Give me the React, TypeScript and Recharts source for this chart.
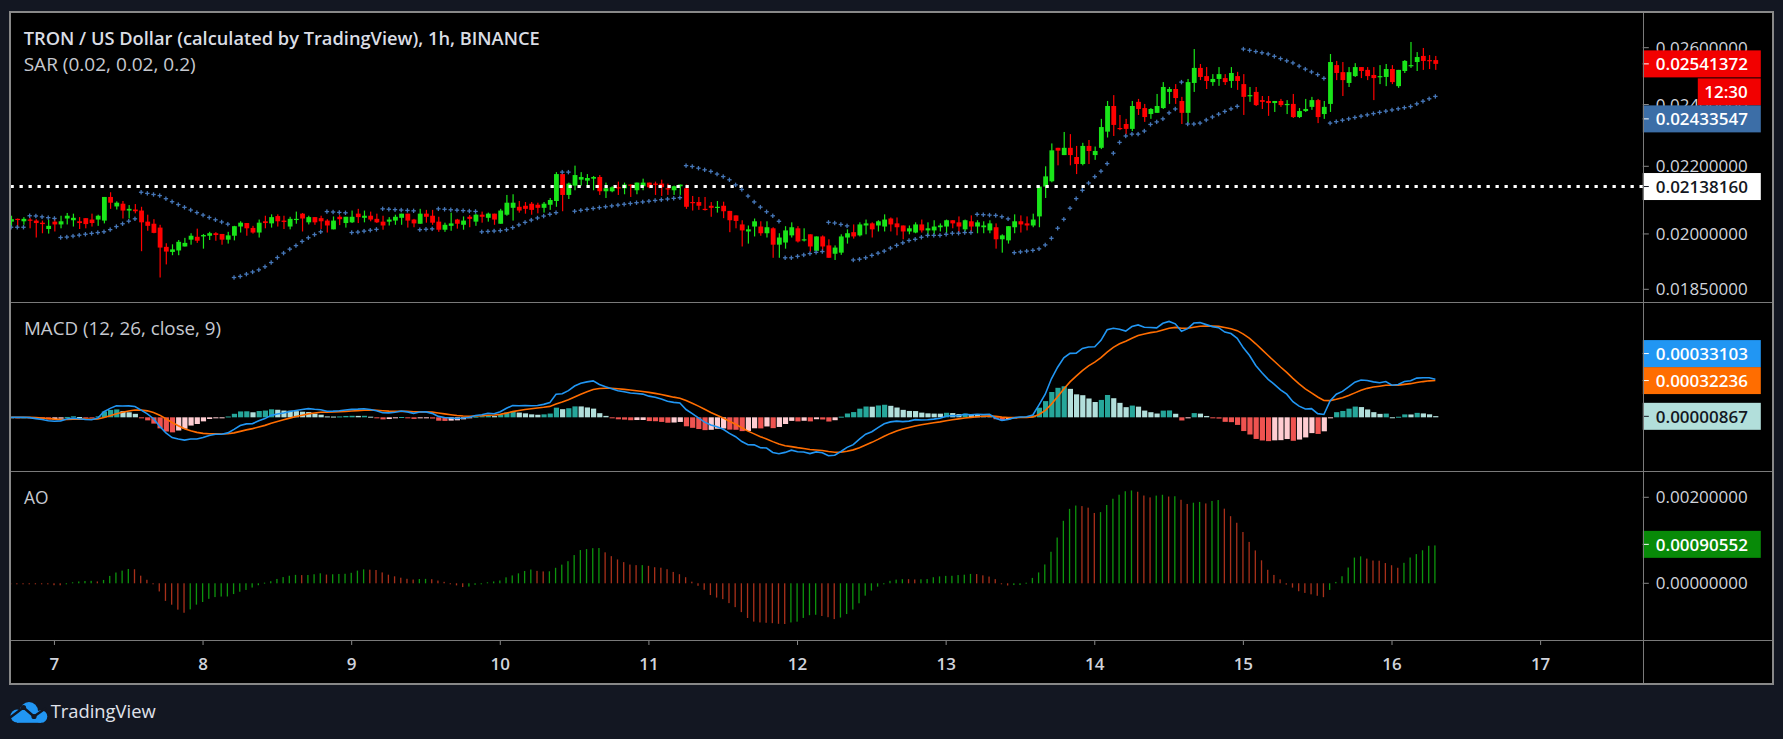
import React from 'react';
import { ComposedChart, Bar, Line, XAxis, YAxis, ReferenceLine } from 'recharts';

const FONT = "'Open Sans', 'Noto Sans', sans-serif";

// ---------------- data ----------------
// hourly candles, first candle = day 6, 17:00
const firstDay = 6;
const firstHour = 17;
const emptyHoursAfter = 33;

const openV = [
  0.02035, 0.02043, 0.02036, 0.02041, 0.02038, 0.02032, 0.02014, 0.02035, 0.02027, 0.02044,
  0.02039, 0.02036, 0.02045, 0.02041, 0.02041, 0.02038, 0.02107, 0.02079, 0.02087, 0.02067,
  0.02070, 0.02067, 0.02035, 0.02029, 0.02018, 0.01964, 0.01950, 0.01954, 0.01965, 0.01984,
  0.01992, 0.01993, 0.01995, 0.02002, 0.02000, 0.01984, 0.01995, 0.02021, 0.02031, 0.02017,
  0.02004, 0.02036, 0.02030, 0.02051, 0.02038, 0.02021, 0.02041, 0.02058, 0.02033, 0.02048,
  0.02045, 0.02038, 0.02013, 0.02049, 0.02031, 0.02033, 0.02058, 0.02046, 0.02052, 0.02043,
  0.02035, 0.02035, 0.02038, 0.02046, 0.02058, 0.02041, 0.02029, 0.02058, 0.02052, 0.02035,
  0.02012, 0.02023, 0.02041, 0.02026, 0.02049, 0.02035, 0.02055, 0.02046, 0.02058, 0.02029,
  0.02055, 0.02075, 0.02078, 0.02081, 0.02087, 0.02084, 0.02075, 0.02084, 0.02095, 0.02176,
  0.02113, 0.02141, 0.02159, 0.02156, 0.02162, 0.02167, 0.02124, 0.02124, 0.02136, 0.02133,
  0.02144, 0.02127, 0.02139, 0.02150, 0.02147, 0.02147, 0.02133, 0.02127, 0.02139, 0.02133,
  0.02092, 0.02092, 0.02072, 0.02081, 0.02075, 0.02081, 0.02066, 0.02053, 0.02027, 0.02007,
  0.02021, 0.02021, 0.02002, 0.02016, 0.01970, 0.01976, 0.01996, 0.02016, 0.01982, 0.01999,
  0.01953, 0.01993, 0.01968, 0.01945, 0.01948, 0.01990, 0.02005, 0.01996, 0.02024, 0.02030,
  0.02024, 0.02021, 0.02044, 0.02030, 0.02024, 0.02007, 0.02004, 0.02027, 0.02010, 0.02010,
  0.02019, 0.02021, 0.02039, 0.02033, 0.02013, 0.02036, 0.02021, 0.02019, 0.02010, 0.02019,
  0.01985, 0.01982, 0.02019, 0.02036, 0.02030, 0.02024, 0.02050, 0.02138, 0.02154, 0.02258,
  0.02235, 0.02258, 0.02229, 0.02207, 0.02264, 0.02235, 0.02258, 0.02310, 0.02395, 0.02322,
  0.02335, 0.02319, 0.02409, 0.02388, 0.02368, 0.02372, 0.02388, 0.02443, 0.02453, 0.02412,
  0.02372, 0.02474, 0.02527, 0.02498, 0.02477, 0.02488, 0.02491, 0.02481, 0.02498, 0.02470,
  0.02429, 0.02443, 0.02415, 0.02412, 0.02405, 0.02412, 0.02398, 0.02402, 0.02358, 0.02378,
  0.02392, 0.02415, 0.02368, 0.02402, 0.02537, 0.02512, 0.02474, 0.02498, 0.02530, 0.02520,
  0.02502, 0.02495, 0.02495, 0.02523, 0.02463, 0.02516, 0.02534, 0.02548, 0.02570, 0.02555,
  0.02555,
];

const highV = [
  0.02052, 0.02044, 0.02048, 0.02046, 0.02042, 0.02038, 0.02041, 0.02044, 0.02052, 0.02060,
  0.02058, 0.02048, 0.02045, 0.02058, 0.02055, 0.02107, 0.02121, 0.02094, 0.02095, 0.02083,
  0.02086, 0.02078, 0.02055, 0.02042, 0.02026, 0.01974, 0.01971, 0.01983, 0.01989, 0.02002,
  0.02015, 0.02000, 0.02006, 0.02005, 0.02000, 0.02006, 0.02023, 0.02036, 0.02031, 0.02023,
  0.02041, 0.02052, 0.02056, 0.02056, 0.02052, 0.02049, 0.02064, 0.02060, 0.02052, 0.02048,
  0.02052, 0.02042, 0.02050, 0.02054, 0.02049, 0.02067, 0.02072, 0.02067, 0.02064, 0.02058,
  0.02052, 0.02048, 0.02055, 0.02058, 0.02058, 0.02043, 0.02072, 0.02069, 0.02069, 0.02049,
  0.02032, 0.02061, 0.02043, 0.02050, 0.02054, 0.02058, 0.02064, 0.02061, 0.02058, 0.02072,
  0.02113, 0.02115, 0.02095, 0.02092, 0.02092, 0.02090, 0.02092, 0.02104, 0.02182, 0.02176,
  0.02150, 0.02202, 0.02182, 0.02176, 0.02170, 0.02173, 0.02150, 0.02139, 0.02153, 0.02150,
  0.02144, 0.02150, 0.02162, 0.02150, 0.02153, 0.02159, 0.02147, 0.02141, 0.02144, 0.02144,
  0.02110, 0.02107, 0.02107, 0.02092, 0.02095, 0.02093, 0.02066, 0.02053, 0.02039, 0.02024,
  0.02044, 0.02036, 0.02036, 0.02019, 0.02002, 0.02022, 0.02033, 0.02022, 0.02016, 0.01999,
  0.01993, 0.01996, 0.01985, 0.01968, 0.01999, 0.02013, 0.02027, 0.02033, 0.02041, 0.02033,
  0.02039, 0.02056, 0.02047, 0.02047, 0.02024, 0.02024, 0.02033, 0.02041, 0.02033, 0.02039,
  0.02030, 0.02041, 0.02039, 0.02050, 0.02041, 0.02053, 0.02039, 0.02036, 0.02039, 0.02030,
  0.01999, 0.02022, 0.02056, 0.02053, 0.02050, 0.02058, 0.02138, 0.02200, 0.02272, 0.02258,
  0.02309, 0.02302, 0.02264, 0.02274, 0.02283, 0.02262, 0.02352, 0.02412, 0.02432, 0.02365,
  0.02352, 0.02412, 0.02419, 0.02402, 0.02388, 0.02436, 0.02477, 0.02460, 0.02470, 0.02426,
  0.02488, 0.02595, 0.02541, 0.02530, 0.02505, 0.02530, 0.02505, 0.02530, 0.02513, 0.02505,
  0.02460, 0.02460, 0.02429, 0.02429, 0.02412, 0.02419, 0.02415, 0.02436, 0.02388, 0.02419,
  0.02426, 0.02419, 0.02412, 0.02577, 0.02552, 0.02548, 0.02530, 0.02544, 0.02530, 0.02530,
  0.02530, 0.02537, 0.02541, 0.02537, 0.02520, 0.02555, 0.02621, 0.02584, 0.02599, 0.02573,
  0.02570,
];

const lowV = [
  0.02019, 0.02019, 0.02026, 0.02016, 0.01990, 0.02002, 0.02001, 0.02007, 0.02016, 0.02027,
  0.02021, 0.02014, 0.02016, 0.02021, 0.02023, 0.02030, 0.02072, 0.02070, 0.02044, 0.02044,
  0.02059, 0.01952, 0.02009, 0.02002, 0.01881, 0.01916, 0.01941, 0.01941, 0.01965, 0.01970,
  0.01975, 0.01959, 0.01983, 0.01981, 0.01970, 0.01973, 0.01982, 0.02004, 0.01995, 0.02001,
  0.01990, 0.02016, 0.02018, 0.02021, 0.02014, 0.02013, 0.02029, 0.02007, 0.02027, 0.02026,
  0.02014, 0.02004, 0.02013, 0.02025, 0.02018, 0.02031, 0.02031, 0.02033, 0.02036, 0.02031,
  0.02012, 0.02024, 0.02026, 0.02026, 0.02018, 0.02019, 0.02029, 0.02032, 0.02026, 0.02006,
  0.02006, 0.02009, 0.02015, 0.02012, 0.02019, 0.02023, 0.02032, 0.02035, 0.02026, 0.02029,
  0.02052, 0.02038, 0.02061, 0.02058, 0.02055, 0.02059, 0.02061, 0.02069, 0.02078, 0.02065,
  0.02101, 0.02127, 0.02141, 0.02139, 0.02127, 0.02113, 0.02104, 0.02121, 0.02113, 0.02115,
  0.02107, 0.02115, 0.02127, 0.02133, 0.02113, 0.02110, 0.02113, 0.02113, 0.02113, 0.02072,
  0.02067, 0.02069, 0.02067, 0.02049, 0.02061, 0.02045, 0.02005, 0.02016, 0.01965, 0.01973,
  0.01993, 0.01995, 0.01990, 0.01934, 0.01934, 0.01959, 0.01990, 0.01976, 0.01979, 0.01951,
  0.01953, 0.01953, 0.01934, 0.01928, 0.01942, 0.01973, 0.01987, 0.01993, 0.01999, 0.01990,
  0.02007, 0.02007, 0.02007, 0.01996, 0.01985, 0.01999, 0.02002, 0.02004, 0.01996, 0.01999,
  0.02007, 0.02002, 0.02016, 0.02004, 0.02007, 0.02007, 0.02002, 0.02002, 0.02002, 0.01959,
  0.01948, 0.01973, 0.02002, 0.02004, 0.02010, 0.02019, 0.02019, 0.02104, 0.02151, 0.02203,
  0.02235, 0.02203, 0.02176, 0.02203, 0.02207, 0.02220, 0.02254, 0.02291, 0.02296, 0.02315,
  0.02302, 0.02312, 0.02365, 0.02342, 0.02352, 0.02372, 0.02385, 0.02402, 0.02402, 0.02335,
  0.02338, 0.02443, 0.02484, 0.02453, 0.02464, 0.02464, 0.02467, 0.02457, 0.02450, 0.02365,
  0.02409, 0.02395, 0.02385, 0.02362, 0.02375, 0.02392, 0.02368, 0.02355, 0.02355, 0.02375,
  0.02382, 0.02338, 0.02352, 0.02375, 0.02484, 0.02429, 0.02460, 0.02495, 0.02491, 0.02484,
  0.02415, 0.02470, 0.02463, 0.02470, 0.02457, 0.02509, 0.02527, 0.02516, 0.02520, 0.02523,
  0.02520,
];

const closeV = [
  0.02042, 0.02041, 0.02043, 0.02038, 0.02031, 0.02028, 0.02023, 0.02027, 0.02036, 0.02052,
  0.02046, 0.02031, 0.02028, 0.02031, 0.02052, 0.02107, 0.02090, 0.02090, 0.02067, 0.02072,
  0.02065, 0.02033, 0.02023, 0.02003, 0.01962, 0.01951, 0.01957, 0.01978, 0.01975, 0.01995,
  0.01981, 0.01997, 0.02002, 0.01997, 0.01984, 0.01996, 0.02022, 0.02032, 0.02016, 0.02004,
  0.02032, 0.02031, 0.02048, 0.02036, 0.02034, 0.02043, 0.02043, 0.02044, 0.02048, 0.02033,
  0.02036, 0.02024, 0.02038, 0.02042, 0.02049, 0.02049, 0.02048, 0.02052, 0.02041, 0.02033,
  0.02024, 0.02041, 0.02049, 0.02058, 0.02038, 0.02030, 0.02058, 0.02049, 0.02032, 0.02012,
  0.02026, 0.02030, 0.02029, 0.02038, 0.02043, 0.02055, 0.02049, 0.02058, 0.02041, 0.02067,
  0.02090, 0.02090, 0.02067, 0.02072, 0.02069, 0.02075, 0.02087, 0.02098, 0.02176, 0.02113,
  0.02147, 0.02173, 0.02167, 0.02164, 0.02167, 0.02124, 0.02133, 0.02136, 0.02133, 0.02144,
  0.02141, 0.02150, 0.02150, 0.02136, 0.02144, 0.02136, 0.02130, 0.02139, 0.02144, 0.02078,
  0.02090, 0.02081, 0.02069, 0.02075, 0.02078, 0.02065, 0.02039, 0.02037, 0.02010, 0.02013,
  0.02036, 0.02002, 0.02019, 0.01970, 0.01990, 0.02010, 0.02019, 0.01979, 0.01985, 0.01965,
  0.01993, 0.01965, 0.01934, 0.01962, 0.01993, 0.02002, 0.01993, 0.02027, 0.02030, 0.02013,
  0.02036, 0.02041, 0.02027, 0.02019, 0.02007, 0.02016, 0.02027, 0.02010, 0.02016, 0.02021,
  0.02024, 0.02039, 0.02030, 0.02021, 0.02039, 0.02021, 0.02033, 0.02024, 0.02030, 0.01985,
  0.01996, 0.02022, 0.02036, 0.02027, 0.02024, 0.02041, 0.02138, 0.02169, 0.02250, 0.02249,
  0.02258, 0.02235, 0.02207, 0.02264, 0.02248, 0.02248, 0.02325, 0.02395, 0.02332, 0.02319,
  0.02319, 0.02395, 0.02385, 0.02358, 0.02385, 0.02395, 0.02460, 0.02453, 0.02422, 0.02372,
  0.02477, 0.02527, 0.02495, 0.02481, 0.02488, 0.02505, 0.02477, 0.02509, 0.02481, 0.02426,
  0.02432, 0.02398, 0.02409, 0.02405, 0.02412, 0.02398, 0.02402, 0.02358, 0.02378, 0.02385,
  0.02415, 0.02358, 0.02392, 0.02548, 0.02509, 0.02484, 0.02512, 0.02530, 0.02516, 0.02498,
  0.02491, 0.02498, 0.02523, 0.02477, 0.02520, 0.02552, 0.02537, 0.02566, 0.02552, 0.02552,
  0.02541372,
];

const priceTicks = [0.0185, 0.02, 0.022, 0.024, 0.026];
const aoTicks = [0, 0.002];
const hLineLevel = 0.0213816;
const sarLabelValue = 0.02433547;
const macdLabelValue = 0.00033103;
const signalLabelValue = 0.00032236;
const histLabelValue = 0.00000867;
const aoLabelValue = 0.00090552;
const countdownText = '12:30';

const titleText = 'TRON / US Dollar (calculated by TradingView), 1h, BINANCE';
const sarParams = [0.02, 0.02, 0.2];
const macdParams = [12, 26, 9];
const aoParams = [5, 34];
const sarLegend = `SAR (${sarParams.join(', ')})`;
const macdLegend = `MACD (${macdParams[0]}, ${macdParams[1]}, close, ${macdParams[2]})`;
const aoLegend = 'AO';

// ---------------- indicators (their standard definitions, from the candles above) ----------------
function ema(src: number[], len: number): number[] {
  const k = 2 / (len + 1);
  const out: number[] = [];
  src.forEach((v, i) => out.push(i === 0 ? v : out[i - 1] + k * (v - out[i - 1])));
  return out;
}
function sma(src: number[], len: number): number[] {
  return src.map((_, i) => {
    const from = Math.max(0, i - len + 1);
    let s = 0;
    for (let j = from; j <= i; j++) s += src[j];
    return s / (i - from + 1);
  });
}
function parabolicSar(h: number[], l: number[], start: number, inc: number, max: number): number[] {
  const out: number[] = [];
  let up = true;
  let af = start;
  let ep = h[0];
  let sar = l[0];
  out.push(sar);
  for (let i = 1; i < h.length; i++) {
    let next = sar + af * (ep - sar);
    if (up) {
      next = Math.min(next, l[i - 1], i > 1 ? l[i - 2] : l[i - 1]);
      if (l[i] < next) { up = false; next = ep; ep = l[i]; af = start; }
      else if (h[i] > ep) { ep = h[i]; af = Math.min(af + inc, max); }
    } else {
      next = Math.max(next, h[i - 1], i > 1 ? h[i - 2] : h[i - 1]);
      if (h[i] > next) { up = true; next = ep; ep = h[i]; af = start; }
      else if (l[i] < ep) { ep = l[i]; af = Math.min(af + inc, max); }
    }
    sar = next;
    out.push(sar);
  }
  return out;
}

const UP = '#19e519';
const DOWN = '#ff0000';

const N = closeV.length;
const fast = ema(closeV, macdParams[0]);
const slow = ema(closeV, macdParams[1]);
const macdV = fast.map((f, i) => f - slow[i]);
const signalV = ema(macdV, macdParams[2]);
const histV = macdV.map((m, i) => m - signalV[i]);
const median = highV.map((h, i) => (h + lowV[i]) / 2);
const aoFast = sma(median, aoParams[0]);
const aoSlow = sma(median, aoParams[1]);
const aoV = aoFast.map((f, i) => f - aoSlow[i]);
const sarV = parabolicSar(highV, lowV, sarParams[0], sarParams[1], sarParams[2]);

type Row = any;
const rows: Row[] = Array.from({ length: N + emptyHoursAfter }, (_, i) => {
  const abs = firstHour + i;
  const day = firstDay + Math.floor(abs / 24);
  const hour = abs % 24;
  if (i >= N) return { t: i, day, hour };
  const o = openV[i], c = closeV[i];
  const h = histV[i];
  const hp = i > 0 ? histV[i - 1] : h;
  const histColor = h >= 0 ? (h > hp ? '#26a69a' : '#b2dfdb') : (h > hp ? '#ffcdd2' : '#ef5350');
  const a = aoV[i];
  const ap = i > 0 ? aoV[i - 1] : a;
  return {
    t: i, day, hour,
    open: o, high: highV[i], low: lowV[i], close: c,
    wick: [lowV[i], highV[i]],
    body: [Math.min(o, c), Math.max(o, c)],
    sar: sarV[i],
    macd: macdV[i], signal: signalV[i], hist: h, histColor,
    ao: a, aoColor: a - ap <= 0 ? '#a8301a' : '#0d940d',
  };
});
const dayTicks = rows.filter((r) => r.hour === 0).map((r) => r.t);

// ---------------- layout ----------------
const PAGE_W = 1783;
const PAGE_H = 739;
const CHART_LEFT = 8.2;
const CHART_W = 1773 - CHART_LEFT;
const AXIS_W = 130;
const PRICE_DOMAIN = [0.018172, 0.027302];
const MACD_DOMAIN = [-0.000471, 0.001003];
const AO_DOMAIN = [-0.001319, 0.002588];
const GRID = '#7a7a7a';
const TEXT = '#d1d4dc';

const fmt8 = (v: number) => Number(v).toFixed(8);

function Tag({ x, y, bg, fg, text }: { x: number; y: number; bg: string; fg: string; text: string }) {
  return (
    <g>
      <rect x={x} y={y - 13.5} width={118} height={27} fill={bg} />
      <line x1={x} x2={x + 6} y1={y} y2={y} stroke={fg} strokeWidth={1} />
      <text x={x + 13} y={y} dominantBaseline="central" fill={fg} fontSize={17} fontFamily={FONT} fontWeight={600}>
        {text}
      </text>
    </g>
  );
}

const rightEdge = (vb: any) => (vb?.x ?? 0) + (vb?.width ?? 0);

const LastPriceTags = (p: any) => {
  const vb = p.viewBox || {};
  const x = rightEdge(vb);
  const y = vb.y ?? 0;
  return (
    <g>
      <Tag x={x} y={y} bg="#f20000" fg="#ffffff" text={fmt8(closeV[N - 1])} />
      <rect x={x + 55} y={y + 14.5} width={63} height={27} fill="#f20000" />
      <text x={x + 105} y={y + 28} textAnchor="end" dominantBaseline="central" fill="#ffffff" fontSize={17} fontFamily={FONT} fontWeight={600}>
        {countdownText}
      </text>
      <Tag x={x} y={y + 55} bg="#3c6ea7" fg="#ffffff" text={fmt8(sarLabelValue)} />
    </g>
  );
};
const HLineTag = (p: any) => {
  const vb = p.viewBox || {};
  return <Tag x={rightEdge(vb)} y={vb.y ?? 0} bg="#ffffff" fg="#131722" text={fmt8(hLineLevel)} />;
};
const MacdTags = (p: any) => {
  const vb = p.viewBox || {};
  const x = rightEdge(vb);
  const y = vb.y ?? 0;
  return (
    <g>
      <Tag x={x} y={y} bg="#ff6d00" fg="#ffffff" text={fmt8(signalLabelValue)} />
      <Tag x={x} y={y - 27} bg="#2196f3" fg="#ffffff" text={fmt8(macdLabelValue)} />
    </g>
  );
};
const HistTag = (p: any) => {
  const vb = p.viewBox || {};
  return <Tag x={rightEdge(vb)} y={vb.y ?? 0} bg="#b2dfdb" fg="#131722" text={fmt8(histLabelValue)} />;
};
const AoTag = (p: any) => {
  const vb = p.viewBox || {};
  return <Tag x={rightEdge(vb)} y={vb.y ?? 0} bg="#088a08" fg="#ffffff" text={fmt8(aoLabelValue)} />;
};

const norm = (p: any) => {
  const top = Math.min(p.y, p.y + p.height);
  const h = Math.abs(p.height);
  return { top, h, cx: p.x + p.width / 2 };
};

const WickShape = (p: any) => {
  const d = p.payload;
  if (!d || d.close == null || !isFinite(p.y)) return <g />;
  const { top, h, cx } = norm(p);
  return <rect x={cx - 0.6} y={top} width={1.2} height={Math.max(1, h)} fill={d.close >= d.open ? UP : DOWN} />;
};
const BodyShape = (p: any) => {
  const d = p.payload;
  if (!d || d.close == null || !isFinite(p.y)) return <g />;
  const { top, h, cx } = norm(p);
  return <rect x={cx - 2.4} y={top} width={4.8} height={Math.max(1.2, h)} fill={d.close >= d.open ? UP : DOWN} />;
};
const HistShape = (p: any) => {
  const d = p.payload;
  if (!d || d.hist == null || !isFinite(p.y)) return <g />;
  const { top, h, cx } = norm(p);
  return <rect x={cx - 2.6} y={top} width={5.2} height={Math.max(1, h)} fill={d.histColor} />;
};
const AoShape = (p: any) => {
  const d = p.payload;
  if (!d || d.ao == null || !isFinite(p.y)) return <g />;
  const { top, h, cx } = norm(p);
  return <rect x={cx - 0.65} y={top} width={1.3} height={Math.max(1, h)} fill={d.aoColor} />;
};
const SarDot = (p: any) => {
  const { cx, cy, key } = p;
  if (cy == null || cx == null || !isFinite(cy)) return <g key={key} />;
  return (
    <g key={key}>
      <rect x={cx - 2.2} y={cy - 0.65} width={4.4} height={1.3} fill="#4677b8" />
      <rect x={cx - 0.65} y={cy - 2.2} width={1.3} height={4.4} fill="#4677b8" />
    </g>
  );
};

const margin0 = { top: 0, right: 0, bottom: 0, left: 0 };

function PricePane() {
  return (
    <ComposedChart width={CHART_W} height={289} data={rows} margin={margin0}>
      <XAxis xAxisId="w" dataKey="t" type="category" hide />
      <XAxis xAxisId="b" dataKey="t" type="category" hide />
      <YAxis
        yAxisId="p"
        orientation="right"
        width={AXIS_W}
        type="number"
        scale="log"
        domain={PRICE_DOMAIN}
        allowDataOverflow
        ticks={priceTicks}
        interval={0}
        tickFormatter={fmt8}
        axisLine={false}
        tickLine={{ stroke: '#8a8a8a' }}
        tickSize={6}
        tickMargin={7}
        tick={{ fill: TEXT, fontSize: 17, fontFamily: FONT }}
      />
      <ReferenceLine xAxisId="w" yAxisId="p" y={hLineLevel} stroke="#ffffff" strokeWidth={3} strokeDasharray="3.3 5.7" ifOverflow="visible" />
      <Bar xAxisId="w" yAxisId="p" dataKey="wick" barSize={1} shape={WickShape} isAnimationActive={false} />
      <Bar xAxisId="b" yAxisId="p" dataKey="body" barSize={5} shape={BodyShape} isAnimationActive={false} />
      <Line xAxisId="w" yAxisId="p" dataKey="sar" stroke="none" dot={SarDot} activeDot={false} isAnimationActive={false} />
    </ComposedChart>
  );
}

// same scales as the price pane, drawn on top so the price tags cover the axis ticks
function PriceTagsPane() {
  return (
    <ComposedChart width={CHART_W} height={289} data={rows} margin={margin0}>
      <XAxis xAxisId="w" dataKey="t" type="category" hide />
      <YAxis
        yAxisId="p"
        orientation="right"
        width={AXIS_W}
        type="number"
        scale="log"
        domain={PRICE_DOMAIN}
        allowDataOverflow
        tick={false}
        axisLine={false}
        tickLine={false}
      />
      <ReferenceLine xAxisId="w" yAxisId="p" y={hLineLevel} stroke="none" ifOverflow="visible" label={HLineTag} />
      <ReferenceLine xAxisId="w" yAxisId="p" y={closeV[N - 1]} stroke="none" ifOverflow="visible" label={LastPriceTags} />
    </ComposedChart>
  );
}

function MacdPane() {
  return (
    <ComposedChart width={CHART_W} height={168} data={rows} margin={margin0}>
      <XAxis dataKey="t" type="category" hide />
      <YAxis orientation="right" width={AXIS_W} type="number" domain={MACD_DOMAIN} allowDataOverflow tick={false} axisLine={false} tickLine={false} />
      <Bar dataKey="hist" barSize={5} shape={HistShape} isAnimationActive={false} />
      <Line dataKey="signal" stroke="#ff6d00" strokeWidth={1.6} dot={false} activeDot={false} isAnimationActive={false} />
      <Line dataKey="macd" stroke="#2196f3" strokeWidth={1.6} dot={false} activeDot={false} isAnimationActive={false} />
      <ReferenceLine y={histLabelValue} stroke="none" ifOverflow="visible" label={HistTag} />
      <ReferenceLine y={signalLabelValue} stroke="none" ifOverflow="visible" label={MacdTags} />
    </ComposedChart>
  );
}

function AoPane() {
  return (
    <ComposedChart width={CHART_W} height={212} data={rows} margin={margin0}>
      <XAxis
        dataKey="t"
        type="category"
        ticks={dayTicks}
        interval={0}
        tickFormatter={(t: any) => String(rows[Number(t)]?.day ?? '')}
        height={44}
        axisLine={false}
        tickLine={{ stroke: '#8a8a8a' }}
        tickSize={5}
        tickMargin={13}
        tick={{ fill: TEXT, fontSize: 17, fontFamily: FONT, fontWeight: 600 }}
      />
      <YAxis
        orientation="right"
        width={AXIS_W}
        type="number"
        domain={AO_DOMAIN}
        allowDataOverflow
        ticks={aoTicks}
        interval={0}
        tickFormatter={fmt8}
        axisLine={false}
        tickLine={{ stroke: '#8a8a8a' }}
        tickSize={6}
        tickMargin={7}
        tick={{ fill: TEXT, fontSize: 17, fontFamily: FONT }}
      />
      <Bar dataKey="ao" barSize={1.3} shape={AoShape} isAnimationActive={false} />
      <ReferenceLine y={aoLabelValue} stroke="none" ifOverflow="visible" label={AoTag} />
    </ComposedChart>
  );
}

const abs = (l: number, t: number, w: number, h: number, extra: any = {}) => ({
  position: 'absolute' as const, left: l, top: t, width: w, height: h, ...extra,
});

export default function App() {
  return (
    <div style={{ position: 'fixed', left: 0, top: 0, width: PAGE_W, height: PAGE_H, background: '#131722', overflow: 'hidden' }}>
      <div style={abs(11, 13, 1761, 670, { background: '#000000' })} />
      <div style={abs(11, 13, 1761, 670, { overflow: 'hidden' })}>
        <div style={abs(CHART_LEFT - 11, 0, CHART_W, 289)}><PricePane /></div>
        <div style={abs(CHART_LEFT - 11, 0, CHART_W, 289)}><PriceTagsPane /></div>
        <div style={abs(CHART_LEFT - 11, 290, CHART_W, 168)}><MacdPane /></div>
        <div style={abs(CHART_LEFT - 11, 459, CHART_W, 212)}><AoPane /></div>
      </div>
      {/* pane separators and frame */}
      <div style={abs(1642.5, 13, 1.5, 670, { background: GRID })} />
      <div style={abs(11, 301.7, 1761, 1.5, { background: GRID })} />
      <div style={abs(11, 470.5, 1761, 1.5, { background: GRID })} />
      <div style={abs(11, 639.6, 1761, 1.5, { background: GRID })} />
      <div style={abs(9, 11, 1765, 674, { border: '2px solid #888888', boxSizing: 'border-box' })} />
      <svg width={PAGE_W} height={PAGE_H} style={{ position: 'absolute', left: 0, top: 0, pointerEvents: 'none' }}>
        <text x={23.7} y={37.7} dominantBaseline="central" fill="#dadde4" fontSize={18} fontWeight={600} fontFamily={FONT} textLength={516} lengthAdjust="spacingAndGlyphs">
          {titleText}
        </text>
        <text x={23.7} y={64} dominantBaseline="central" fill="#c6c9d0" fontSize={18} fontFamily={FONT} textLength={172} lengthAdjust="spacingAndGlyphs">
          {sarLegend}
        </text>
        <text x={24} y={328} dominantBaseline="central" fill="#c6c9d0" fontSize={18} fontFamily={FONT} textLength={197} lengthAdjust="spacingAndGlyphs">
          {macdLegend}
        </text>
        <text x={24} y={497} dominantBaseline="central" fill="#c6c9d0" fontSize={18} fontFamily={FONT} textLength={24.5} lengthAdjust="spacingAndGlyphs">
          {aoLegend}
        </text>
        {/* TradingView logo */}
        <g>
          <circle cx={29} cy={711} r={9} fill="#2196f3" />
          <circle cx={17} cy={716} r={6.5} fill="#2196f3" />
          <circle cx={41} cy={716.5} r={6.3} fill="#2196f3" />
          <rect x={17} y={712} width={24} height={10.8} fill="#2196f3" />
          <polyline points="9.5,718 23.5,707.5 34,716.5 46,708" fill="none" stroke="#131722" strokeWidth={2.4} strokeLinejoin="round" />
          <circle cx={23.5} cy={707.5} r={2.6} fill="#131722" />
          <circle cx={34} cy={716.5} r={2.6} fill="#131722" />
        </g>
        <text x={50.7} y={711} dominantBaseline="central" fill="#e0e3eb" fontSize={18} fontFamily={FONT} textLength={105} lengthAdjust="spacingAndGlyphs">
          TradingView
        </text>
      </svg>
    </div>
  );
}
